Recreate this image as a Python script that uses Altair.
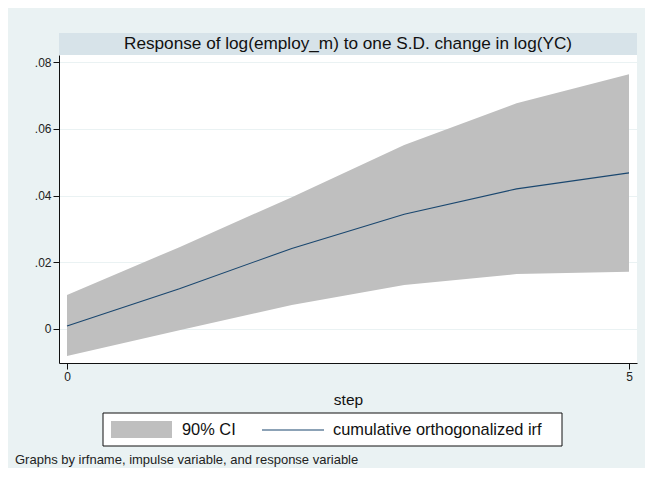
import altair as alt
import pandas as pd

# ---- data ----
steps = [0, 1, 2, 3, 4, 5]
irf = [0.0008, 0.0120, 0.0241, 0.0344, 0.0420, 0.0468]
ci_lower = [-0.0082, -0.0005, 0.0071, 0.0131, 0.0164, 0.0171]
ci_upper = [0.0101, 0.0245, 0.0395, 0.0552, 0.0677, 0.0764]

y_ticks = [0, 0.02, 0.04, 0.06, 0.08]
x_ticks = [0, 5]

panel_title = "Response of log(employ_m) to one S.D. change in log(YC)"
x_title = "step"
legend_labels = ["90% CI", "cumulative orthogonalized irf"]
footnote = "Graphs by irfname, impulse variable, and response variable"

FONT = "Liberation Sans"
BAND = "#bfbfbf"
LINE = "#1a476f"
BG = "#eaf2f3"
STRIP = "#d7e3e9"

W, H = 578, 308

df = pd.DataFrame({"step": steps, "irf": irf, "lower": ci_lower, "upper": ci_upper})
one = pd.DataFrame({"k": [0]})

xscale = alt.Scale(domain=[-0.0712, 5.0712], nice=False, zero=False)
yscale = alt.Scale(domain=[-0.0103, 0.0822], nice=False, zero=False)

xaxis = alt.Axis(
    values=x_ticks, format="d", title=x_title, grid=False, domainColor="#111", domainWidth=1,
    tickColor="#111", tickSize=6, labelFontSize=12, labelColor="#222", labelPadding=2,
    labelFont=FONT, titleFont=FONT, titleFontSize=15.5, titleFontWeight="normal",
    titleColor="#111", titlePadding=10,
)
yaxis = alt.Axis(
    values=y_ticks, title=None, grid=True, gridColor=BG, gridWidth=1,
    domainColor="#111", domainWidth=1, tickColor="#111", tickSize=6,
    labelFontSize=12, labelColor="#222", labelPadding=2, labelFont=FONT,
    labelExpr="datum.value == 0 ? '0' : replace(format(datum.value, '.2f'), '0.', '.')",
)

band = alt.Chart(df).mark_area(color=BAND, opacity=1).encode(
    x=alt.X("step:Q", scale=xscale, axis=xaxis),
    y=alt.Y("lower:Q", scale=yscale, axis=yaxis),
    y2="upper:Q",
)
line = alt.Chart(df).mark_line(color=LINE, strokeWidth=1.1).encode(
    x=alt.X("step:Q", scale=xscale),
    y=alt.Y("irf:Q", scale=yscale),
)

strip = alt.Chart(one).mark_rect(color=STRIP).encode(
    x=alt.value(0), x2=alt.value(W), y=alt.value(-22), y2=alt.value(0)
)
title_txt = alt.Chart(one).mark_text(
    text=panel_title, font=FONT, fontSize=17.2, color="#111", align="center", baseline="middle"
).encode(x=alt.value(W / 2), y=alt.value(-11))

# legend box (Stata-style)
leg_box = alt.Chart(one).mark_rect(fill="white", stroke="#111", strokeWidth=1).encode(
    x=alt.value(44), x2=alt.value(503), y=alt.value(358), y2=alt.value(391)
)
leg_swatch = alt.Chart(one).mark_rect(fill=BAND).encode(
    x=alt.value(52), x2=alt.value(113), y=alt.value(366), y2=alt.value(383)
)
leg_line = alt.Chart(one).mark_rule(color=LINE, strokeWidth=1.1).encode(
    x=alt.value(203), x2=alt.value(265), y=alt.value(375)
)
leg_t1 = alt.Chart(one).mark_text(
    text=legend_labels[0], font=FONT, fontSize=16.4, color="#111", align="left", baseline="middle"
).encode(x=alt.value(123), y=alt.value(375))
leg_t2 = alt.Chart(one).mark_text(
    text=legend_labels[1], font=FONT, fontSize=16.4, color="#111", align="left", baseline="middle"
).encode(x=alt.value(274), y=alt.value(375))

foot = alt.Chart(one).mark_text(
    text=footnote, font=FONT, fontSize=13, color="#222", align="left", baseline="alphabetic"
).encode(x=alt.value(-44), y=alt.value(409))

chart = alt.layer(
    band, line, strip, title_txt, leg_box, leg_swatch, leg_line, leg_t1, leg_t2, foot
).properties(
    width=W, height=H,
    background=BG,
    padding={"left": 51, "top": 47, "right": 8, "bottom": 105},
    autosize=alt.AutoSizeParams(type="none"),
).configure_view(stroke=None, fill="white")

chart.save("out.html", embed_options={"renderer": "svg", "actions": False})
